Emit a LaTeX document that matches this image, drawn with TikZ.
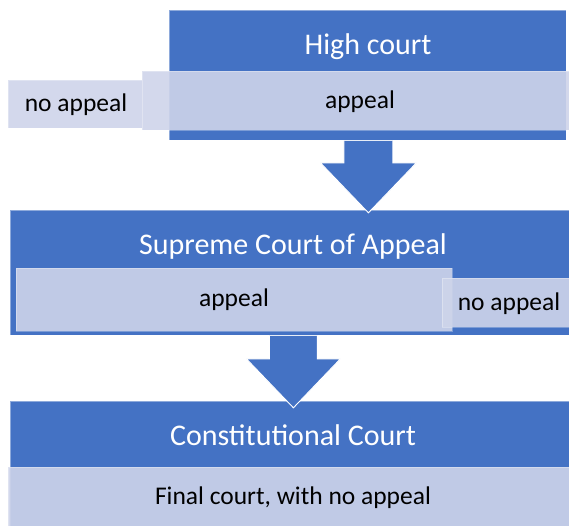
\documentclass[tikz,border=0pt]{standalone}
\usepackage{fontspec}
\setmainfont{Carlito}
\usetikzlibrary{calc}
\definecolor{dkblue}{RGB}{68,114,196}
\definecolor{ltblue}{RGB}{206,212,234}
\begin{document}
\begin{tikzpicture}[x=1pt,y=-1pt,
  darkbox/.style={fill=dkblue, draw=white, draw opacity=0.4, line width=0.8pt, inner sep=0pt, anchor=north west},
  lightbox/.style={fill=ltblue, fill opacity=0.9, draw=white, draw opacity=0.3, line width=0.8pt, inner sep=0pt, anchor=north west},
  headtxt/.style={text=white, font=\fontsize{30}{35}\selectfont, anchor=base, inner sep=0pt},
  bodytxt/.style={text=black, font=\fontsize{25.5}{30}\selectfont, anchor=base, inner sep=0pt},
  blockarrow/.style={fill=dkblue, draw=white, line width=0.9pt}]
\useasboundingbox (0,0) rectangle (569,525);
% ---- High court
\node[lightbox, minimum width=134pt, minimum height=48pt] (na1) at (8,80) {};
\node[darkbox, minimum width=397pt, minimum height=130pt] (hc) at (169,10) {};
\node[lightbox, minimum width=430pt, minimum height=59pt] (ap1) at (142,71) {};
\node[headtxt] (hct) at (368,54) {High court};
\node[bodytxt] (ap1t) at (360,108) {appeal};
\node[bodytxt] (na1t) at (76,111) {no appeal};
% ---- Supreme Court of Appeal
\node[darkbox, minimum width=566pt, minimum height=125pt] (sc) at (10,210) {};
\node[lightbox, minimum width=436pt, minimum height=63pt] (ap2) at (16,268) {};
\node[lightbox, minimum width=135pt, minimum height=49pt] (na2) at (442,278) {};
\node[headtxt] (sct) at (293,254) {Supreme Court of Appeal};
\node[bodytxt] (ap2t) at (234,306) {appeal};
\node[bodytxt] (na2t) at (509,310) {no appeal};
% ---- Constitutional Court
\node[darkbox, minimum width=566pt, minimum height=130pt] (cc) at (10,401) {};
\node[lightbox, minimum width=572pt, minimum height=64pt] (fin) at (8,467) {};
\node[headtxt] (cct) at (293,445) {Constitutional Court};
\node[bodytxt] (fint) at (293,504) {Final court, with no appeal};
% ---- arrows
\coordinate (a1) at ($(hc.south)+(0.5,0)$);
\path[blockarrow] ($(a1)+(-24.5,0)$) -- ++(0,22) -- ($(a1)+(-48,22)$) -- ($(a1)+(0,72)$)
  -- ($(a1)+(48,22)$) -- ($(a1)+(24.5,22)$) -- ($(a1)+(24.5,0)$);
\coordinate (a2) at (sc.south);
\path[blockarrow] ($(a2)+(-24,0)$) -- ++(0,23) -- ($(a2)+(-47,23)$) -- ($(a2)+(0,72)$)
  -- ($(a2)+(47,23)$) -- ($(a2)+(24,23)$) -- ($(a2)+(24,0)$);
\end{tikzpicture}
\end{document}
